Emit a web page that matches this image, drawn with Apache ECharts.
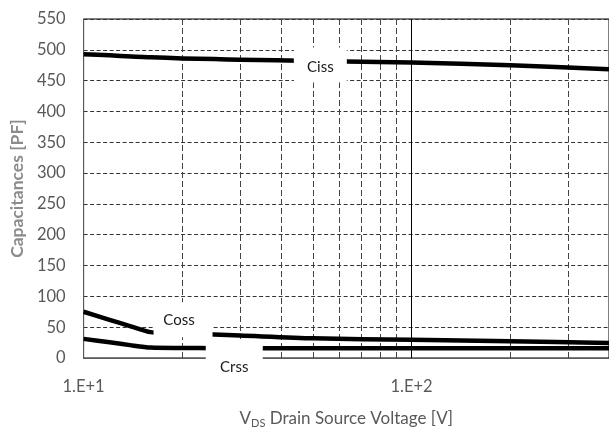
<!DOCTYPE html>
<html>
<head>
<meta charset="utf-8">
<script src="https://cdn.jsdelivr.net/npm/echarts@6/dist/echarts.min.js"></script>
<style>html,body{margin:0;padding:0;background:#fff;}#c{width:609px;height:434px;}</style>
</head>
<body>
<div id="c"></div>
<script>
// ---- data ----
const vds  = [10, 12, 14, 16, 20, 25, 30, 50, 100, 200, 400];
const ciss = [493, 491, 489, 488, 486, 485, 484, 482, 479.5, 475, 468.5];
const coss = [75, 62, 51, 42, 39.5, 38, 36.5, 32, 29.5, 27, 24.5];
const crss = [31, 25.5, 20.5, 17, 16.3, 16, 16, 16, 16, 16, 16];
const minorGridV = [20, 30, 40, 50, 60, 70, 80, 90, 200, 300];
const majorGridV = [100];
const xTickLabels = {10: '1.E+1', 100: '1.E+2'};
const yTicks = [0, 50, 100, 150, 200, 250, 300, 350, 400, 450, 500, 550];
const curveNames = ['Ciss', 'Coss', 'Crss'];

const FONT = 'Lato';
const pairs = arr => vds.map((x, i) => [x, arr[i]]);

const labelBox = (name, coord, size, offset) => ({
  coord: coord, symbol: 'rect', symbolSize: size,
  itemStyle: {color: '#fff'},
  label: {show: true, position: 'inside', formatter: name, offset: offset,
          color: '#1a1a1a', fontSize: 15, fontFamily: FONT}
});

const gridLines = [];
minorGridV.forEach(v => gridLines.push({xAxis: v, lineStyle: {type: [6, 3], color: '#444', width: 1}}));
majorGridV.forEach(v => gridLines.push({xAxis: v, lineStyle: {type: 'solid', color: '#000', width: 1}}));

const lineSeries = (name, vals, extra) => Object.assign({
  name: name, type: 'line', data: pairs(vals), showSymbol: false,
  smooth: 0.25, z: 3,
  lineStyle: {color: '#000', width: 4.5, cap: 'butt', join: 'round'}, itemStyle: {color: '#000'}
}, extra || {});

const option = {
  animation: false,
  backgroundColor: '#fff',
  grid: {left: 81, top: 19, right: -3, bottom: 73, show: true,
         borderColor: '#000', borderWidth: 1, backgroundColor: 'transparent'},
  xAxis: {
    type: 'log', logBase: 10, min: 10, max: 400,
    name: 'V{sub|DS} Drain Source Voltage [V]',
    nameLocation: 'middle', nameGap: 51,
    nameTextStyle: {color: '#595959', fontSize: 17, fontFamily: FONT,
      rich: {sub: {fontSize: 11, verticalAlign: 'bottom', padding: [9, 0, 0, 0], color: '#595959', fontFamily: FONT}}},
    axisLine: {show: true, lineStyle: {color: '#595959', width: 1}},
    axisTick: {show: false},
    splitLine: {show: false},
    axisLabel: {color: '#595959', fontSize: 16.5, fontFamily: FONT, margin: 20,
      showMaxLabel: false,
      formatter: v => xTickLabels[Math.round(v)] || ''}
  },
  yAxis: {
    type: 'value', min: yTicks[0], max: yTicks[yTicks.length - 1], interval: 50,
    name: 'Capacitances [PF]', nameLocation: 'middle', nameGap: 56,
    nameTextStyle: {color: '#8c8c8c', fontSize: 17.5, fontWeight: 'bold', fontFamily: FONT},
    axisLine: {show: true, lineStyle: {color: '#595959', width: 1}},
    axisTick: {show: false},
    axisLabel: {color: '#595959', fontSize: 16.5, fontFamily: FONT, margin: 18},
    splitLine: {show: true, lineStyle: {type: [4, 2.5], color: '#333', width: 1}}
  },
  series: [
    lineSeries(curveNames[0], ciss, {
      markLine: {silent: true, symbol: 'none', z: 1, label: {show: false}, data: gridLines}
    }),
    lineSeries(curveNames[1], coss),
    lineSeries(curveNames[2], crss, {
      markPoint: {silent: true, z: 6, data: [
        labelBox(curveNames[0], [52.7, 475.2], [53, 35], [0, 2.5]),
        labelBox(curveNames[1], [20.1, 61.9], [59, 35], [-4, 0]),
        labelBox(curveNames[2], [28.8, 1.6], [57, 36], [0, 10])
      ]}
    })
  ]
};
echarts.init(document.getElementById('c')).setOption(option);
</script>
</body>
</html>
